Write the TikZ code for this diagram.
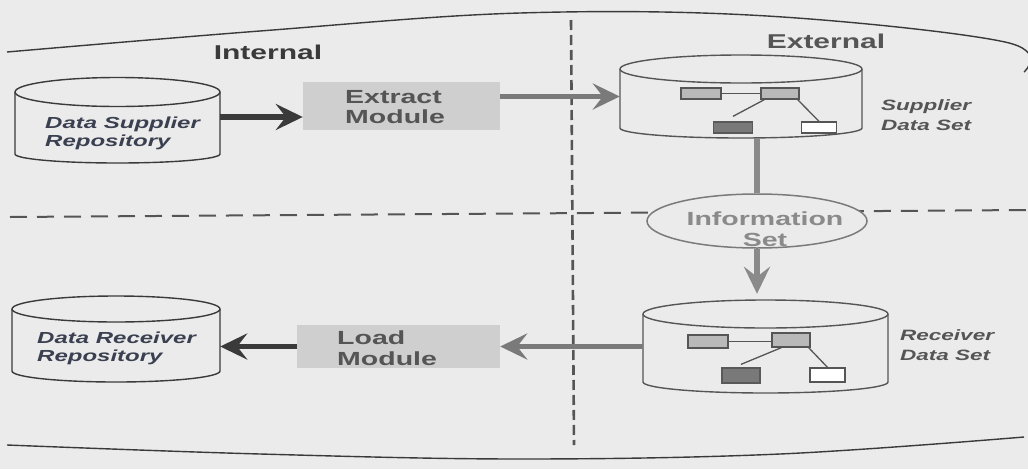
\documentclass[tikz,border=0pt]{standalone}
\usepackage{fontspec}
\setmainfont{Liberation Sans}[FakeStretch=1.5]
\usetikzlibrary{arrows.meta,calc,shapes.geometric}
\definecolor{bgc}{HTML}{EBEBEB}
\definecolor{darkc}{HTML}{3A3A3A}
\definecolor{midc}{HTML}{555555}
\definecolor{arrg}{HTML}{7A7A7A}
\definecolor{lightarr}{HTML}{8A8A8A}
\definecolor{boxfill}{HTML}{CFCFCF}
\definecolor{labblue}{HTML}{3A4050}
% cylinder: name, x1, x2, ytop, rytop, ybot, rybot, colour
\newcommand\mycyl[8]{%
  \pgfmathsetmacro\mycx{(#2+#3)/2}%
  \pgfmathsetmacro\myrx{(#3-#2)/2}%
  \pgfmathsetmacro\mywd{#3-#2}%
  \pgfmathsetmacro\myht{(#6+#7)-(#4-#5)}%
  \pgfmathsetmacro\mycy{((#6+#7)+(#4-#5))/2}%
  \draw[cylline=#8] (#2,#4) -- (#2,#6) arc[start angle=180,end angle=0,x radius=\myrx,y radius=#7] -- (#3,#4);
  \draw[cylline=#8] (\mycx,#4) ellipse[x radius=\myrx,y radius=#5];
  \node[inner sep=0pt,minimum width=\mywd pt,minimum height=\myht pt] (#1) at (\mycx,\mycy) {};
}
\tikzset{
  cylline/.style={line width=1.4pt,draw=#1,line join=round},
  bigarr/.style={line width=5.5pt,draw=#1,-{Stealth[length=27pt,width=26pt,inset=10pt]}},
  modbox/.style={fill=boxfill,inner sep=0pt},
  modtext/.style={font=\bfseries\fontsize{19}{20.5}\selectfont,align=left,inner sep=0pt,text=midc,anchor=west},
  repotext/.style={font=\bfseries\itshape\fontsize{16}{18}\selectfont,align=left,inner sep=0pt,anchor=west},
  settext/.style={font=\bfseries\itshape\fontsize{15}{19.5}\selectfont,align=left,inner sep=0pt,text=midc,anchor=west},
  headtext/.style={font=\bfseries\fontsize{20}{22}\selectfont,inner sep=0pt},
  smallbox/.style={inner sep=0pt,line width=1.3pt},
  thinline/.style={line width=1.3pt,draw=#1},
  dashv/.style={line width=2.6pt,draw=midc,dash pattern=on 10pt off 5pt},
  dashh/.style={line width=2pt,draw=midc,dash pattern=on 17pt off 10pt},
  frame/.style={line width=1.4pt,draw=darkc},
}
\begin{document}
\begin{tikzpicture}[x=1pt,y=-1pt]
\useasboundingbox (0,0) rectangle (1028,469);
\fill[bgc] (0,0) rectangle (1028,469);
% frame
\draw[frame] plot[smooth,tension=0.6] coordinates {(7,52) (260,31) (520,13) (767,16) (1005,42) (1024,72)};
\draw[frame] plot[smooth,tension=0.6] coordinates {(7,445) (260,454) (520,459) (780,454) (1024,437)};
% dashed separators
\coordinate (vtop) at (571,20);
\coordinate (vbot) at (574,445);
\coordinate (hleft) at (10,217);
\coordinate (hright) at (1028,210);
\draw[dashv] (vtop) -- (vbot);
\draw[dashh] (hleft) -- (hright);
% headings
\node[headtext,text=darkc] (internal) at (268,52) {Internal};
\node[headtext,text=midc] (external) at (826,41) {External};
% repositories
\mycyl{dsr}{15}{220}{92}{14.5}{154}{9}{darkc}
\node[repotext,text=labblue] (dsrtext) at (45,133) {Data Supplier\\Repository};
\mycyl{drr}{12}{220}{309}{13}{371}{11}{darkc}
\node[repotext,text=labblue] (drrtext) at (37,348) {Data Receiver\\Repository};
% modules
\node[modbox,minimum width=197pt,minimum height=48pt] (extract) at (401.5,106) {};
\node[modtext] (extracttext) at (345,107) {Extract\\Module};
\node[modbox,minimum width=203pt,minimum height=43pt] (load) at (398.5,346.5) {};
\node[modtext] (loadtext) at (337,348) {Load\\Module};
% data sets
\mycyl{sup}{620}{862}{69}{14}{128}{10}{midc}
\node[settext] (suptext) at (881,115) {Supplier\\Data Set};
\mycyl{rec}{643}{888}{314}{14}{382}{11}{midc}
\node[settext] (rectext) at (900,345) {Receiver\\Data Set};
% inner records (supplier)
\node[smallbox,draw=midc,fill=gray!55,minimum width=40pt,minimum height=11pt] (s1) at (701,93.5) {};
\node[smallbox,draw=midc,fill=gray!55,minimum width=38pt,minimum height=11pt] (s2) at (780,93.5) {};
\node[smallbox,draw=gray!70!black,fill=gray!95!black,minimum width=39pt,minimum height=11pt] (s3) at (733,127.5) {};
\node[smallbox,draw=midc,fill=white,minimum width=35pt,minimum height=11pt] (s4) at (819,127.5) {};
\draw[thinline=midc] (s1.east) -- (s2.west);
\draw[thinline=midc] ([xshift=4pt]s2.south west) -- ([yshift=5pt]s3.north);
\draw[thinline=midc] ([xshift=-2pt]s2.south east) -- (s4.north);
% inner records (receiver)
\node[smallbox,draw=midc,fill=gray!55,minimum width=40pt,minimum height=13pt] (r1) at (708,341.5) {};
\node[smallbox,draw=midc,fill=gray!55,minimum width=38pt,minimum height=14pt] (r2) at (791,340) {};
\node[smallbox,draw=gray!70!black,fill=gray!95!black,minimum width=38pt,minimum height=15pt] (r3) at (741,375.5) {};
\node[smallbox,draw=midc,fill=white,minimum width=35pt,minimum height=14pt] (r4) at (827.5,375) {};
\draw[thinline=midc] (r1.east) -- (r2.west |- r1.east);
\draw[thinline=midc] ([xshift=10pt]r2.south west) -- ([yshift=3pt]r3.north);
\draw[thinline=midc] ([xshift=-2pt]r2.south east) -- (r4.north);
% information set
\node[ellipse,draw=arrg,line width=1.5pt,fill=bgc,minimum width=220pt,minimum height=54pt,inner sep=0pt] (info) at (757,221) {};
\node[font=\bfseries\fontsize{19}{21}\selectfont,text=lightarr,align=center,inner sep=0pt] (infotext) at (765,229) {Information\\Set};
% connectors
\draw[bigarr=darkc] ([yshift=-11pt]extract.west -| dsr.east) -- ([yshift=-11pt]extract.west);
\draw[bigarr=arrg] (extract.east |- sup.west) -- (sup.west);
\draw[line width=6pt,draw=lightarr] (info.north |- sup.south) -- (info.north);
\draw[bigarr=lightarr,shorten >=6pt] (info.south) -- (info.south |- rec.north);
\draw[bigarr=arrg] (rec.west) -- (rec.west -| load.east);
\draw[bigarr=darkc] (load.west) -- (load.west -| drr.east);
\end{tikzpicture}
\end{document}
